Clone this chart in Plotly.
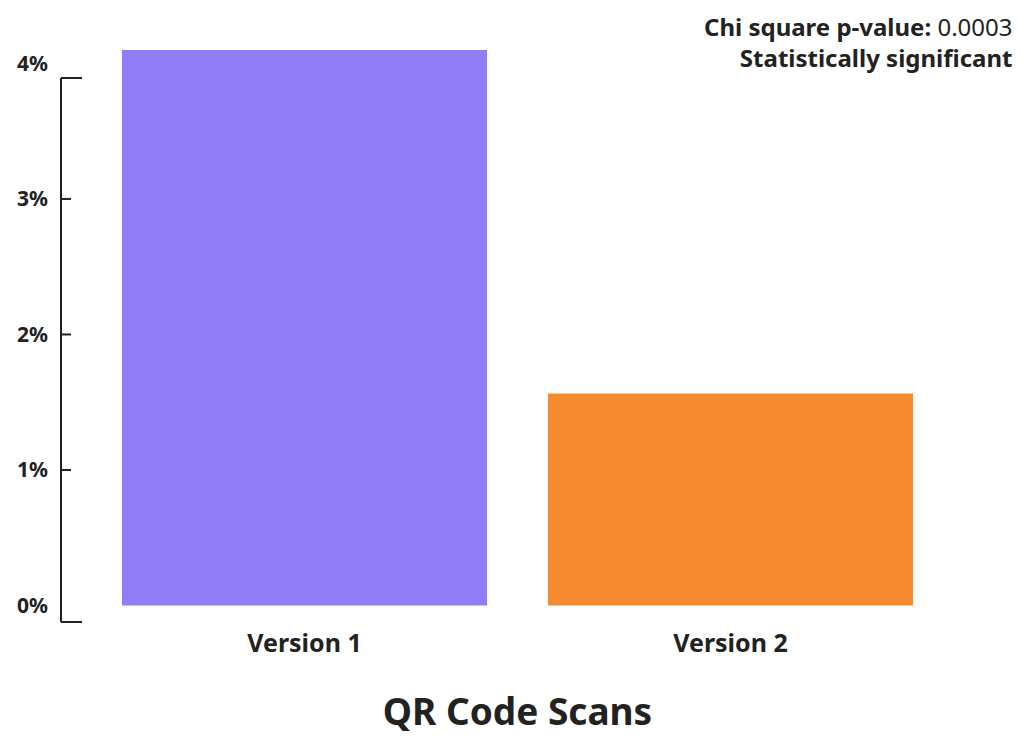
import plotly.graph_objects as go

# chart data
versions = ["Version 1", "Version 2"]
scan_rates = [4.10, 1.565]
bar_colors = ["#917df7", "#f68a2f"]
y_ticks = [0, 1, 2, 3, 4]
y_tick_labels = ["0%", "1%", "2%", "3%", "4%"]
p_value = "0.0003"
verdict = "Statistically significant"

FONT = "Noto Sans, Lato, sans-serif"
INK = "#222222"

# the page puts the figure 8px in from the corner, so keep it small enough
# that no scrollbar shows up
W, H = 1008, 729
L, R, T, B = 53, 42, 32, 115
PW, PH = W - L - R, H - T - B

fig = go.Figure(go.Bar(
    x=versions,
    y=scan_rates,
    marker=dict(color=bar_colors, line=dict(width=0)),
    width=0.857,
    hoverinfo="skip",
))

# bracket-style y axis line (drawn as shapes, offset like the source)
axis_style = dict(color=INK, width=2)
top = 544 / PH
fig.add_shape(type="line", xref="paper", yref="paper", x0=0, x1=0, y0=0, y1=top, line=axis_style)
fig.add_shape(type="line", xref="paper", yref="paper", x0=0, x1=21 / PW, y0=0, y1=0, line=axis_style)
fig.add_shape(type="line", xref="paper", yref="paper", x0=0, x1=21 / PW, y0=top, y1=top, line=axis_style)
for t in y_ticks[1:-1]:
    fig.add_shape(type="line", xref="paper", yref="y", x0=0, x1=10 / PW, y0=t, y1=t, line=axis_style)

fig.add_annotation(
    xref="paper", yref="paper", x=(W - 1 - L) / PW, y=1 + T / PH, xanchor="right", yanchor="top",
    align="right", showarrow=False,
    text=f"<b>Chi square p-value:</b> {p_value}<br><b>{verdict}</b>",
    font=dict(family=FONT, size=24, color=INK),
)

fig.update_layout(
    width=W, height=H,
    margin=dict(l=L, r=R, t=T, b=B),
    paper_bgcolor="white", plot_bgcolor="white",
    showlegend=False,
    font=dict(family=FONT, color=INK),
    title=dict(
        text="<b>QR Code Scans</b>", x=(L + PW / 2) / W, xanchor="center",
        y=1 - 704 / H, yanchor="middle",
        font=dict(family=FONT, size=37, color=INK),
    ),
    xaxis=dict(
        range=[-0.5716, 1.5716], showline=False, showgrid=False, zeroline=False,
        ticks="", tickfont=dict(family=FONT, size=25, color=INK, weight="bold"),
        ticklabelstandoff=4, automargin=False,
    ),
    yaxis=dict(
        range=[-0.1218, 4.173], showline=False, showgrid=False, zeroline=False,
        tickvals=y_ticks, ticktext=y_tick_labels, ticks="",
        tickfont=dict(family=FONT, size=21, color=INK, weight="bold"),
        ticklabelstandoff=12, automargin=False,
    ),
)

fig.write_html("out.html")
